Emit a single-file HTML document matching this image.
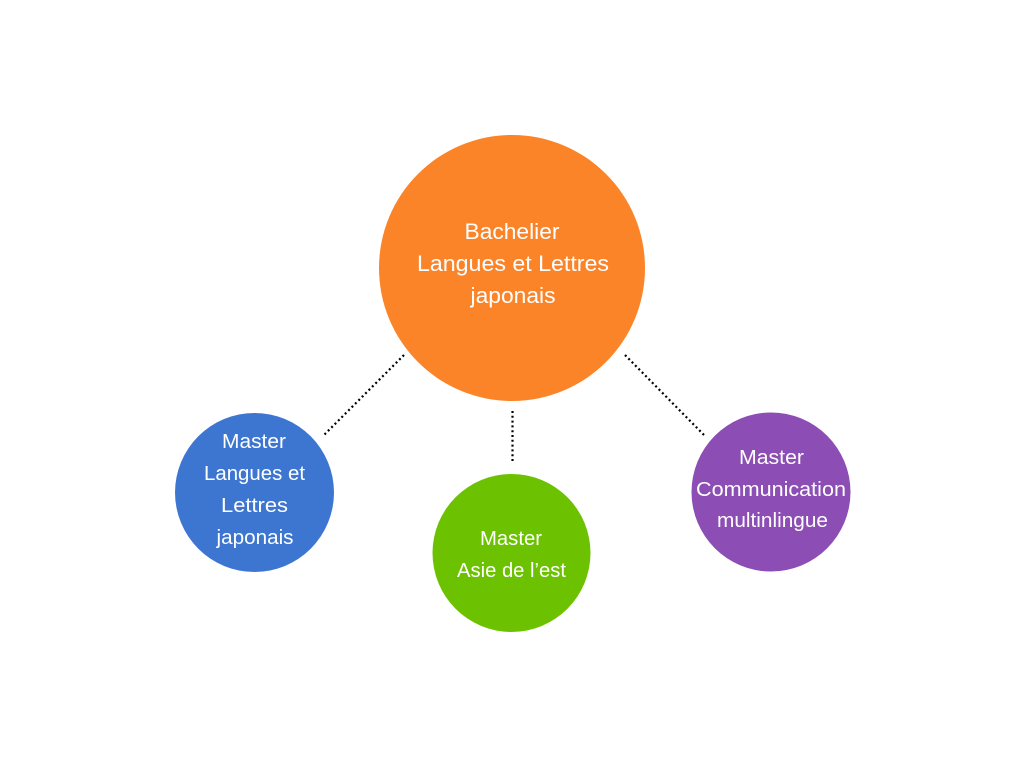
<!DOCTYPE html>
<html>
<head>
<meta charset="utf-8">
<style>
  html, body { margin: 0; padding: 0; background: #ffffff; }
  body { width: 1024px; height: 768px; overflow: hidden; }
  svg { display: block; }
  text { font-family: "Liberation Sans", sans-serif; fill: #ffffff; text-anchor: middle; }
</style>
</head>
<body>
<svg width="1024" height="768" viewBox="0 0 1024 768" xmlns="http://www.w3.org/2000/svg">
  <rect x="0" y="0" width="1024" height="768" fill="#ffffff"/>

  <!-- dotted connectors -->
  <g stroke="#000000" stroke-width="2.2" stroke-dasharray="2 2.8" fill="none">
    <line x1="404" y1="355" x2="323" y2="436"/>
    <line x1="512.5" y1="411" x2="512.5" y2="463"/>
    <line x1="625" y1="355" x2="705" y2="436"/>
  </g>

  <!-- circles -->
  <circle cx="512" cy="268" r="133" fill="#FC8428"/>
  <circle cx="254.5" cy="492.5" r="79.5" fill="#3D76D1"/>
  <circle cx="511.5" cy="553" r="79" fill="#6CC200"/>
  <circle cx="771" cy="492" r="79.5" fill="#8C4DB4"/>

  <!-- orange text -->
  <g font-size="22.5">
    <text x="512" y="239" textLength="95" lengthAdjust="spacingAndGlyphs">Bachelier</text>
    <text x="513" y="271" textLength="192" lengthAdjust="spacingAndGlyphs">Langues et Lettres</text>
    <text x="513" y="303" textLength="85" lengthAdjust="spacingAndGlyphs">japonais</text>
  </g>

  <!-- blue text -->
  <g font-size="20.5">
    <text x="254" y="448" textLength="64" lengthAdjust="spacingAndGlyphs">Master</text>
    <text x="254.5" y="480" textLength="101" lengthAdjust="spacingAndGlyphs">Langues et</text>
    <text x="254.5" y="512" textLength="67" lengthAdjust="spacingAndGlyphs">Lettres</text>
    <text x="255" y="544" textLength="77" lengthAdjust="spacingAndGlyphs">japonais</text>
  </g>

  <!-- green text -->
  <g font-size="20.5">
    <text x="511" y="545" textLength="62" lengthAdjust="spacingAndGlyphs">Master</text>
    <text x="511.5" y="577" textLength="109" lengthAdjust="spacingAndGlyphs">Asie de l’est</text>
  </g>

  <!-- purple text -->
  <g font-size="20.5">
    <text x="771.5" y="464" textLength="65" lengthAdjust="spacingAndGlyphs">Master</text>
    <text x="771" y="496" textLength="150" lengthAdjust="spacingAndGlyphs">Communication</text>
    <text x="772.5" y="527" textLength="111" lengthAdjust="spacingAndGlyphs">multinlingue</text>
  </g>
</svg>
</body>
</html>
